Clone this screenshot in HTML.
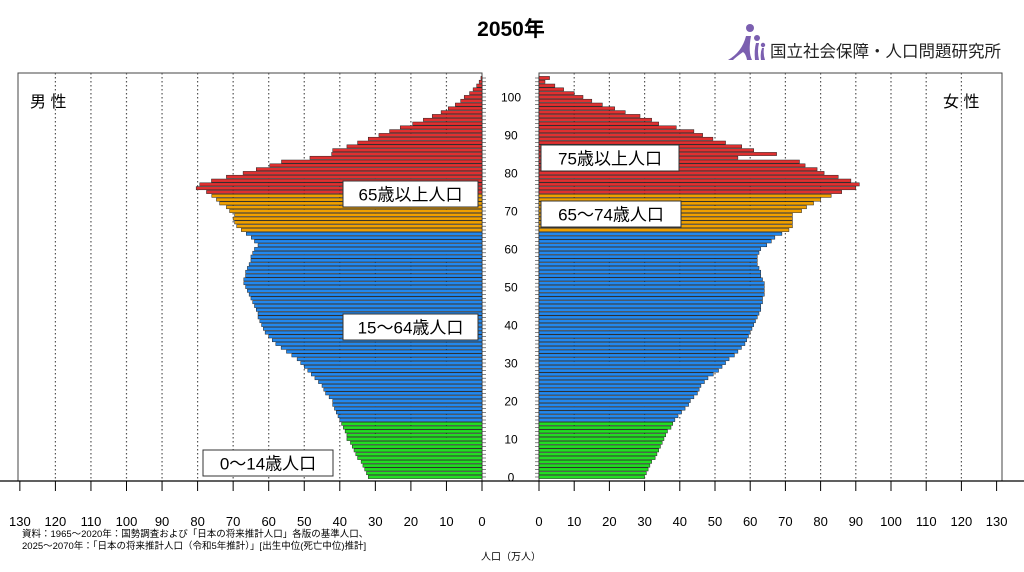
<!DOCTYPE html>
<html><head><meta charset="utf-8"><style>
body{margin:0;background:#fff;width:1024px;height:567px;overflow:hidden;font-family:"Liberation Sans","Noto Sans CJK JP",sans-serif;}
svg text{font-family:"Liberation Sans","Noto Sans CJK JP",sans-serif;}
</style></head><body>
<svg id="c" width="1024" height="567" viewBox="0 0 1024 567">
<text x="511" y="36" font-size="21" font-weight="bold" text-anchor="middle">2050年</text>
<g>
<circle cx="750" cy="28" r="4" fill="#7b5fb0"/><circle cx="757" cy="38" r="3" fill="#7b5fb0"/><circle cx="763" cy="45" r="2.2" fill="#7b5fb0"/>
<path d="M728 60 Q742 52 746 36 L751 36 Q748 52 752 60 L747 60 Q746 54 743 52 Q736 57 733 60 Z" fill="#7b5fb0"/>
<path d="M755 60 Q754 50 756 43 L759 43 Q757 51 759 60 Z" fill="#7b5fb0"/>
<path d="M761 60 Q760 53 762 48 L764 48 Q763 54 765 60 Z" fill="#7b5fb0"/>
</g>
<text x="770" y="57" font-size="16.5" fill="#222">国立社会保障・人口問題研究所</text>
<g id="plot"></g>
<text x="30" y="107" font-size="16">男 性</text>
<text x="943" y="107" font-size="16">女 性</text>
<text x="22" y="537" font-size="9.5">資料：1965～2020年：国勢調査および「日本の将来推計人口」各版の基準人口、</text>
<text x="22" y="549" font-size="9.5">2025～2070年：「日本の将来推計人口（令和5年推計）」[出生中位(死亡中位)推計]</text>
<text x="511" y="560" font-size="10" text-anchor="middle">人口（万人）</text>
</svg>
<script>
const male=[32,32.5,33,33.5,34,35,35.5,36,36.5,37,38,38,38.5,39,39.5,40,40.5,41,41.5,42,42,43,44,44.5,45,46,47,48,49,50,51,52,53.5,55,56.5,58,59,60,61,61.5,62,62.5,63,63,63.5,64,64.5,65,65.5,66,66.5,67,67,66.5,66.5,66,65.5,65,65,64.5,64,63,64,64.9,66.3,67.7,69,69.6,70,69.6,71,71.9,73.8,74.7,76,77.5,80.4,79.4,76.1,71.9,67.2,63.5,59.7,56.4,48.4,42.3,42,38,35,32,29,26,23,19.5,16.5,14,11.5,9.5,7.5,6,5,3.5,2.5,1.5,0.8,0.3];
const female=[30,30.5,31,31.5,32,33,33.5,34,34.5,35,35.5,36,36.5,37.5,38,38.6,39.5,40.5,41.5,42.5,43,44,45,45.5,46,47,48,49.5,51,52,53,54,55.5,56.5,57.5,58.5,59,59.5,60,60.5,61,61.5,62,62.5,63,63,63.5,63.5,64,64,64,64,63.5,63,63,62.5,62,62,62,62.5,63,64.7,66,67,69,71,72,72,72,72,74.6,76,78,80,83,86,90,91,88.6,85,81,79,75.6,74,56.5,67.5,61,57.6,53,49.4,46.5,44,39,34,32,28.7,24.5,21.5,18,15,12.5,10,7,4.5,1.7,3];
const xTicks=[0,10,20,30,40,50,60,70,80,90,100,110,120,130];
const ageTicks=[0,10,20,30,40,50,60,70,80,90,100];
const NS="http://www.w3.org/2000/svg";
const g=document.getElementById('plot');
const L0=482,LS=3.555,R0=539,RS=3.52,TOP=73,BOT=481;
const xm=v=>L0-v*LS, xf=v=>R0+v*RS, ya=a=>477-a*3.8;
function mk(t,a){const e=document.createElementNS(NS,t);for(const k in a)e.setAttribute(k,a[k]);g.appendChild(e);return e;}
function col(a){return a<15?'#22dd22':a<65?'#2288ee':a<75?'#f0a000':'#e03030';}
let e=mk('rect',{x:18,y:TOP,width:L0-18,height:BOT-TOP,fill:'none',stroke:'#444','stroke-width':1});

e=mk('rect',{x:R0,y:TOP,width:1002-R0,height:BOT-TOP,fill:'none',stroke:'#444','stroke-width':1});

xTicks.forEach(t=>{
 [[xm(t),'male'],[xf(t),'female']].forEach(([x,s])=>{
  if(t>0&&t<130){e=mk('line',{x1:x,x2:x,y1:TOP,y2:BOT,stroke:'#555','stroke-width':1.2,'stroke-dasharray':'1.5,2.5'});
  }
  e=mk('line',{x1:x,x2:x,y1:BOT,y2:BOT+10,stroke:'#000','stroke-width':1});
  
  e=mk('text',{x:x,y:526,'font-size':13,'text-anchor':'middle'});e.textContent=t;
  
 });
});
e=mk('line',{x1:0,x2:1024,y1:BOT,y2:BOT,stroke:'#000','stroke-width':1.2});

e=mk('rect',{x:L0+1,y:TOP-2,width:R0-L0-2,height:BOT-TOP+1,fill:'#fff'});

male.forEach((v,a)=>{
 e=mk('rect',{x:xm(v),y:ya(a)-1.6,width:v*LS,height:3.2,fill:col(a),stroke:'#222','stroke-width':0.5});
 
 e=mk('line',{x1:L0,x2:L0+4,y1:ya(a),y2:ya(a),stroke:'#333','stroke-width':0.6});
 
});
female.forEach((v,a)=>{
 e=mk('rect',{x:R0,y:ya(a)-1.6,width:v*RS,height:3.2,fill:col(a),stroke:'#222','stroke-width':0.5});
 
 e=mk('line',{x1:R0-4,x2:R0,y1:ya(a),y2:ya(a),stroke:'#333','stroke-width':0.6});
 
});
ageTicks.forEach(t=>{
 e=mk('text',{x:511,y:ya(t)+4.5,'font-size':12,'text-anchor':'middle'});e.textContent=t;
 
});
[['65歳以上人口',343,181,135,'label-65-plus'],['75歳以上人口',541,145,138,'label-75-plus'],['65～74歳人口',541,201,140,'label-65-74'],['15～64歳人口',343,314,135,'label-15-64'],['0～14歳人口',203,450,130,'label-0-14']].forEach(([t,x,y,w,n])=>{
 e=mk('rect',{x:x,y:y,width:w,height:26,fill:'#fff',stroke:'#333','stroke-width':1});
 
 e=mk('text',{x:x+w/2,y:y+19.5,'font-size':17,'text-anchor':'middle'});e.textContent=t;
 
});
</script>
</body></html>
